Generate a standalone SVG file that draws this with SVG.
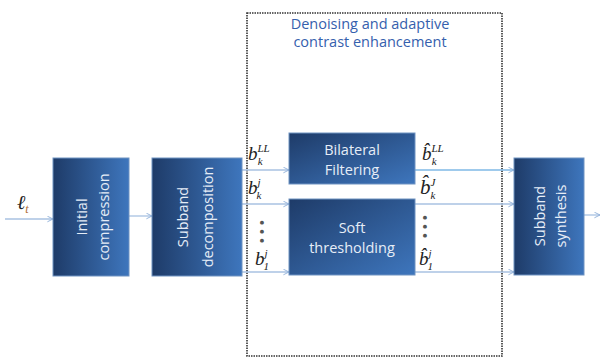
<svg xmlns="http://www.w3.org/2000/svg" width="605" height="359" viewBox="0 0 605 359">
<defs>
<linearGradient id="g" x1="0" y1="0" x2="1" y2="0">
<stop offset="0" stop-color="#1e3b68"/>
<stop offset="1" stop-color="#3e76bd"/>
</linearGradient>
<linearGradient id="gh" x1="0" y1="0" x2="1" y2="1">
<stop offset="0" stop-color="#1e3b68"/>
<stop offset="1" stop-color="#3e76bd"/>
</linearGradient>
<marker id="ah" viewBox="0 0 10 10" refX="9" refY="5" markerWidth="7" markerHeight="7" orient="auto" markerUnits="userSpaceOnUse">
<path d="M1,1 L9,5 L1,9" fill="none" stroke="#8fb0d8" stroke-width="1.3"/>
</marker>
</defs>
<style>
.box{stroke:#6f93c2;stroke-width:1}
.bt{font-family:"Open Sans","Liberation Sans",sans-serif;font-size:14.5px;fill:#e6edf7;text-anchor:middle}
.ln{stroke:#a8c2e2;stroke-width:1.3;fill:none;marker-end:url(#ah)}
.m{font-family:"Liberation Serif",serif;font-style:italic;fill:#222}
.d{font-family:"DejaVu Sans",sans-serif;font-size:5px;fill:#555;text-anchor:middle}
.tt{font-family:"Open Sans","Liberation Sans",sans-serif;font-size:14.5px;fill:#3560ad;text-anchor:middle}
</style>
<rect width="605" height="359" fill="#fff"/>
<rect x="247" y="13" width="255" height="343" fill="none" stroke="#333" stroke-width="1.6" stroke-dasharray="1.5 1"/>
<text class="tt" x="370" y="29">Denoising and adaptive</text>
<text class="tt" x="370" y="47">contrast enhancement</text>
<g id="connectors">
<line class="ln" x1="5" y1="219" x2="53" y2="219"/>
<line class="ln" x1="129" y1="216" x2="152" y2="216"/>
<line class="ln" x1="242" y1="170" x2="289" y2="170"/>
<line class="ln" x1="242" y1="204" x2="289" y2="204"/>
<line class="ln" x1="242" y1="272" x2="289" y2="272"/>
<line class="ln" x1="415" y1="170" x2="514" y2="170" style="stroke:#7fb8e6"/>
<line class="ln" x1="415" y1="204" x2="514" y2="204"/>
<line class="ln" x1="415" y1="272" x2="514" y2="272"/>
<line class="ln" x1="584" y1="215" x2="600" y2="215"/>
</g>
<text class="m" x="17" y="209" font-size="20">ℓ<tspan font-size="12" dy="4" fill="#b06a30">t</tspan></text>
<g id="initial">
<rect class="box" x="53" y="158" width="76" height="118" fill="url(#g)"/>
<text class="bt" transform="translate(87,217) rotate(-90)">Initial</text>
<text class="bt" transform="translate(109,217) rotate(-90)">compression</text>
</g>
<g id="decomposition">
<rect class="box" x="152" y="158" width="90" height="118" fill="url(#g)"/>
<text class="bt" transform="translate(188,217) rotate(-90)">Subband</text>
<text class="bt" transform="translate(213,217) rotate(-90)">decomposition</text>
</g>
<g id="bilateral">
<rect class="box" x="289" y="133" width="126" height="51" fill="url(#gh)"/>
<text class="bt" x="352" y="155">Bilateral</text>
<text class="bt" x="352" y="175">Filtering</text>
</g>
<g id="soft">
<rect class="box" x="289" y="199" width="126" height="76" fill="url(#gh)"/>
<text class="bt" x="352" y="233">Soft</text>
<text class="bt" x="352" y="253">thresholding</text>
</g>
<g id="synthesis">
<rect class="box" x="514" y="158" width="70" height="117" fill="url(#g)"/>
<text class="bt" transform="translate(545,216) rotate(-90)">Subband</text>
<text class="bt" transform="translate(566,216) rotate(-90)">synthesis</text>
</g>
<g id="labels">
<text class="m" x="248" y="160" font-size="19">b<tspan font-size="11" dy="-8">LL</tspan><tspan font-size="11" dx="-12" dy="13">k</tspan></text>
<text class="m" x="248" y="194" font-size="19">b<tspan font-size="11" dy="-8">j</tspan><tspan font-size="11" dx="-4" dy="13">k</tspan></text>
<text class="d" x="262" y="224">●</text>
<text class="d" x="262" y="233">●</text>
<text class="d" x="262" y="242">●</text>
<text class="m" x="255" y="265" font-size="19">b<tspan font-size="11" dy="-8">j</tspan><tspan font-size="11" dx="-4" dy="13">1</tspan></text>
<text class="m" x="422" y="160" font-size="19">b̂<tspan font-size="11" dy="-8">LL</tspan><tspan font-size="11" dx="-12" dy="13">k</tspan></text>
<text class="m" x="420" y="194" font-size="21">b̂<tspan font-size="11" dy="-8">J</tspan><tspan font-size="11" dx="-5" dy="13">k</tspan></text>
<text class="d" x="425" y="219">●</text>
<text class="d" x="425" y="228">●</text>
<text class="d" x="425" y="237">●</text>
<text class="m" x="419" y="265" font-size="19">b̂<tspan font-size="11" dy="-8">j</tspan><tspan font-size="11" dx="-4" dy="13">1</tspan></text>
</g>
</svg>
